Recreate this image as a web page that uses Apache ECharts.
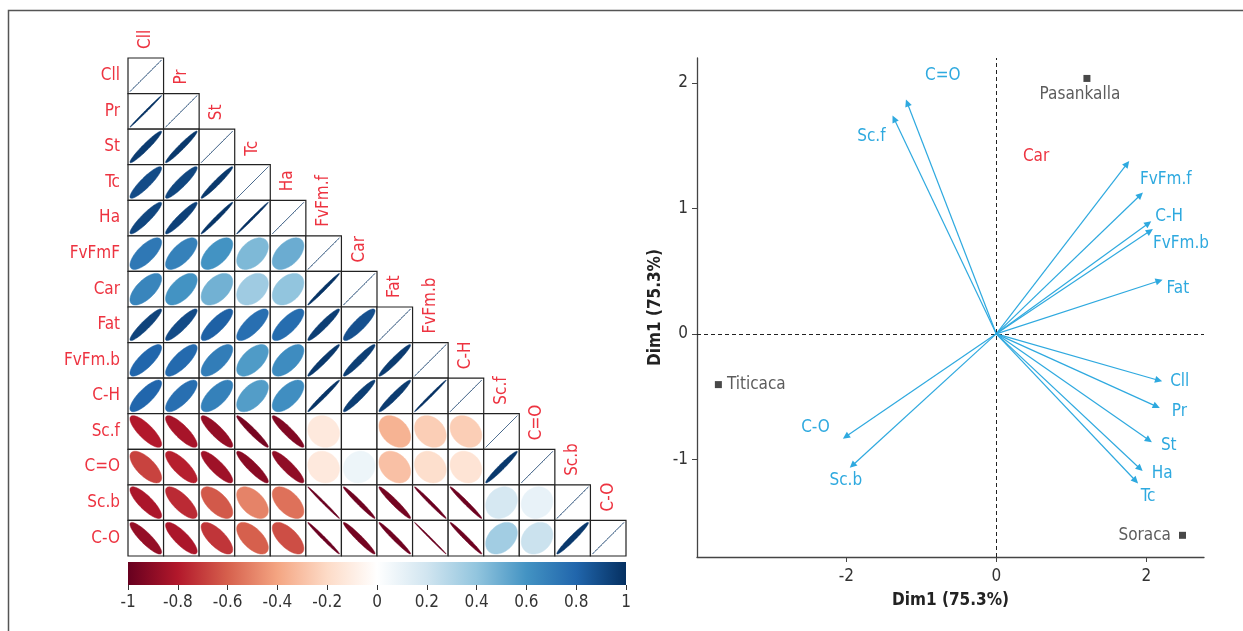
<!DOCTYPE html>
<html>
<head>
<meta charset="utf-8">
<script src="https://cdn.jsdelivr.net/npm/echarts@6/dist/echarts.min.js"></script>
<style>
html,body{margin:0;padding:0;background:#fff;}
#chart{width:1243px;height:631px;}
</style>
</head>
<body>
<div id="chart"></div>
<script>
// ---------------- DATA ----------------
const rowNames = ['Cll','Pr','St','Tc','Ha','FvFmF','Car','Fat','FvFm.b','C-H','Sc.f','C=O','Sc.b','C-O'];
const colNames = ['Cll','Pr','St','Tc','Ha','FvFm.f','Car','Fat','FvFm.b','C-H','Sc.f','C=O','Sc.b','C-O'];
// lower triangle of the correlation matrix (row i holds columns 0..i)
const corrRows = [
  [1],
  [0.997, 1],
  [0.96, 0.97, 1],
  [0.90, 0.92, 0.97, 1],
  [0.92, 0.94, 0.985, 0.995, 1],
  [0.72, 0.68, 0.60, 0.45, 0.50, 1],
  [0.66, 0.60, 0.48, 0.36, 0.40, 0.99, 1],
  [0.93, 0.90, 0.82, 0.76, 0.77, 0.95, 0.88, 1],
  [0.80, 0.78, 0.70, 0.57, 0.63, 0.97, 0.95, 0.96, 1],
  [0.80, 0.76, 0.68, 0.56, 0.62, 0.985, 0.95, 0.96, 0.995, 1],
  [-0.80, -0.83, -0.88, -0.96, -0.93, -0.12, 0.00, -0.35, -0.25, -0.25, 1],
  [-0.68, -0.78, -0.85, -0.91, -0.89, -0.12, 0.08, -0.30, -0.18, -0.15, 0.97, 1],
  [-0.82, -0.75, -0.62, -0.50, -0.55, -0.995, -0.98, -0.965, -0.99, -0.985, 0.18, 0.10, 1],
  [-0.88, -0.82, -0.72, -0.60, -0.65, -0.99, -0.965, -0.98, -0.998, -0.985, 0.35, 0.22, 0.97, 1]
];
const colorbarTicks = [-1, -0.8, -0.6, -0.4, -0.2, 0, 0.2, 0.4, 0.6, 0.8, 1];

// PCA biplot: variable arrows
const varNames = ['Cll','Pr','St','Tc','Ha','FvFm.f','Car','Fat','FvFm.b','C-H','Sc.f','C=O','Sc.b','C-O'];
const varX = [2.212, 2.181, 2.075, 1.891, 1.952, 1.956, 1.773, 2.218, 2.089, 2.067, -1.383, -1.204, -1.953, -2.045];
const varY = [-0.379, -0.591, -0.864, -1.193, -1.095, 1.127, 1.379, 0.432, 0.836, 0.898, 1.741, 1.869, -1.069, -0.836];
// PCA biplot: individuals
const indNames = ['Pasankalla', 'Titicaca', 'Soraca'];
const indX = [1.209, -3.705, 2.483];
const indY = [2.037, -0.405, -1.607];
const xTicks = [-2, 0, 2];
const yTicks = [-1, 0, 1, 2];

// ---------------- STYLES ----------------
const FONT = "'Liberation Sans Narrow', 'DejaVu Sans Condensed', 'Arial Narrow', sans-serif";
const RED = '#ED3340';
const BLUE = '#2EA9DF';
const RDBU = ['#67001F','#B2182B','#D6604D','#F4A582','#FDDBC7','#FFFFFF','#D1E5F0','#92C5DE','#4393C3','#2166AC','#053061'];
// label placement relative to arrow tip: [dx, dy, align, color]
const varLabelStyle = {
  'Cll': [8, 0, 'left'], 'Pr': [12, 4, 'left'], 'St': [9, 3, 'left'], 'Tc': [10, 13, 'center'],
  'Ha': [9, 2, 'left'], 'FvFm.f': [-3, -13, 'left'], 'Car': [-80, -4, 'right', RED],
  'Fat': [4, 9, 'left'], 'FvFm.b': [0, 15, 'left'], 'C-H': [4, -5, 'left'],
  'Sc.f': [-7, 21, 'right'], 'C=O': [19, -24, 'left'], 'Sc.b': [-4, 13, 'center'], 'C-O': [-13, -11, 'right']
};
const indLabelStyle = {
  'Pasankalla': {position: 'bottom', distance: 4, offset: [-7, 0]},
  'Titicaca': {position: 'right', distance: 5},
  'Soraca': {position: 'left', distance: 8}
};

// ---------------- BUILD ----------------
const corrData = [];
corrRows.forEach((row, i) => row.forEach((v, j) => corrData.push([j, i, v])));
const arrowData = varNames.map((n, k) => [varX[k], varY[k], k]);
const indData = indNames.map((n, k) => ({value: [indX[k], indY[k]], name: n, label: indLabelStyle[n]}));

const chart = echarts.init(document.getElementById('chart'));
const option = {
  backgroundColor: '#fff',
  animation: false,
  textStyle: {fontFamily: FONT},
  graphic: [{
    type: 'rect', silent: true, z: 0,
    shape: {x: 8.5, y: 10.5, width: 1300, height: 700},
    style: {fill: 'none', stroke: '#555', lineWidth: 1.5}
  }],
  visualMap: [{
    type: 'continuous', show: false, min: -1, max: 1, dimension: 2, seriesIndex: 0,
    inRange: {color: RDBU}
  }],
  grid: [
    {left: 128, top: 58, width: 498, height: 498},
    {left: 128, top: 562, width: 498, height: 23},
    {left: 697, right: 39, top: 58, bottom: 74}
  ],
  xAxis: [
    {gridIndex: 0, type: 'category', data: colNames, show: false},
    {gridIndex: 1, type: 'value', min: -1, max: 1, interval: 0.2,
     axisLine: {show: false}, splitLine: {show: false},
     axisTick: {show: true, length: 5, lineStyle: {color: '#333', width: 1}},
     axisLabel: {fontSize: 17, color: '#333', margin: 9, fontFamily: FONT,
       formatter: v => String(Math.round(v * 10) / 10)}},
    {gridIndex: 2, type: 'value', min: -3.99, max: 2.77,
     axisLine: {show: true, onZero: false, lineStyle: {color: '#444', width: 1.3}},
     axisTick: {show: true, length: 5, customValues: xTicks, lineStyle: {color: '#444'}},
     axisLabel: {fontSize: 17, color: '#333', margin: 11, customValues: xTicks, fontFamily: FONT},
     splitLine: {show: false},
     name: 'Dim1 (75.3%)', nameLocation: 'middle', nameGap: 35,
     nameTextStyle: {fontSize: 17, fontWeight: 'bold', color: '#222', fontFamily: FONT}}
  ],
  yAxis: [
    {gridIndex: 0, type: 'category', data: rowNames, inverse: true,
     axisLine: {show: false}, axisTick: {show: false}, splitLine: {show: false},
     axisLabel: {fontSize: 17, color: RED, margin: 8, fontFamily: FONT}},
    {gridIndex: 1, type: 'value', min: 0, max: 1, show: false},
    {gridIndex: 2, type: 'value', min: -1.78, max: 2.2,
     axisLine: {show: true, onZero: false, lineStyle: {color: '#444', width: 1.3}},
     axisTick: {show: true, length: 5, customValues: yTicks, lineStyle: {color: '#444'}},
     axisLabel: {fontSize: 17, color: '#333', margin: 9, customValues: yTicks, fontFamily: FONT},
     splitLine: {show: false},
     name: 'Dim1 (75.3%)', nameLocation: 'middle', nameGap: 33,
     nameTextStyle: {fontSize: 17, fontWeight: 'bold', color: '#222', fontFamily: FONT}}
  ],
  series: [
    {
      type: 'custom', xAxisIndex: 0, yAxisIndex: 0, data: corrData, z: 2,
      renderItem: function (params, api) {
        const j = api.value(0), i = api.value(1), r = api.value(2);
        const c = api.coord([j, i]);
        const sz = api.size([1, 1]);
        const w = sz[0], h = sz[1];
        const color = api.visual('color');
        const d = Math.acos(Math.max(-1, Math.min(1, r)));
        const pts = [];
        const N = 90;
        for (let k = 0; k < N; k++) {
          const t = 2 * Math.PI * k / N;
          pts.push([c[0] + Math.cos(t + d / 2) / 2 * w * 0.89, c[1] - Math.cos(t - d / 2) / 2 * h * 0.89]);
        }
        const children = [
          {type: 'rect', shape: {x: c[0] - w / 2, y: c[1] - h / 2, width: w, height: h},
           style: {fill: '#fff', stroke: '#222', lineWidth: 1.2}},
          {type: 'polygon', shape: {points: pts}, style: {fill: color, stroke: color, lineWidth: 0.5}}
        ];
        if (i === j) {
          children.push({type: 'text', x: c[0], y: c[1] - h / 2 - 9, rotation: Math.PI / 2,
            style: {text: colNames[j], fill: RED, fontSize: 17, fontFamily: FONT, align: 'left', verticalAlign: 'middle'}});
        }
        return {type: 'group', children: children};
      }
    },
    {
      type: 'custom', xAxisIndex: 1, yAxisIndex: 1, data: [[colorbarTicks[0], colorbarTicks[colorbarTicks.length - 1]]],
      renderItem: function (params, api) {
        const p0 = api.coord([api.value(0), 1]);
        const p1 = api.coord([api.value(1), 0]);
        return {type: 'rect', shape: {x: p0[0], y: p0[1], width: p1[0] - p0[0], height: p1[1] - p0[1]},
          style: {fill: new echarts.graphic.LinearGradient(0, 0, 1, 0,
            RDBU.map((col, k) => ({offset: k / (RDBU.length - 1), color: col})))}};
      }
    },
    {
      type: 'custom', xAxisIndex: 2, yAxisIndex: 2, data: arrowData, z: 3,
      renderItem: function (params, api) {
        const x = api.value(0), y = api.value(1), k = api.value(2);
        const o = api.coord([0, 0]);
        const p = api.coord([x, y]);
        const a = Math.atan2(p[1] - o[1], p[0] - o[0]);
        const L = 8, s = Math.PI / 7;
        const head = [p, [p[0] - L * Math.cos(a - s), p[1] - L * Math.sin(a - s)],
                      [p[0] - L * Math.cos(a + s), p[1] - L * Math.sin(a + s)]];
        const ls = varLabelStyle[varNames[k]];
        return {type: 'group', children: [
          {type: 'line', shape: {x1: o[0], y1: o[1], x2: p[0] - 5 * Math.cos(a), y2: p[1] - 5 * Math.sin(a)},
           style: {stroke: BLUE, lineWidth: 1.2}},
          {type: 'polygon', shape: {points: head}, style: {fill: BLUE}},
          {type: 'text', x: p[0] + ls[0], y: p[1] + ls[1],
           style: {text: varNames[k], fill: ls[3] || BLUE, fontSize: 17, fontFamily: FONT, align: ls[2], verticalAlign: 'middle'}}
        ]};
      }
    },
    {
      type: 'scatter', xAxisIndex: 2, yAxisIndex: 2, data: indData, z: 4,
      symbol: 'rect', symbolSize: 7, itemStyle: {color: '#1a1a1a'},
      label: {show: true, formatter: '{b}', color: '#333', fontSize: 17, fontFamily: FONT},
      markLine: {
        silent: true, symbol: 'none', z: 1,
        label: {show: false},
        lineStyle: {type: [4, 3], color: '#222', width: 1},
        data: [{xAxis: 0}, {yAxis: 0}]
      }
    }
  ]
};
chart.setOption(option);
</script>
</body>
</html>
